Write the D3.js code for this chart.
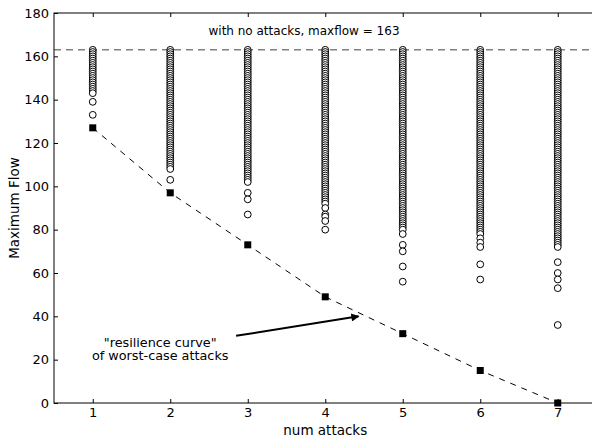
<!DOCTYPE html>
<html>
<head>
<meta charset="utf-8">
<script src="https://cdnjs.cloudflare.com/ajax/libs/d3/7.8.5/d3.min.js"></script>
<style>
  body { margin: 0; background: #fff; }
  text { font-family: "DejaVu Sans", sans-serif; fill: #000; }
</style>
</head>
<body>
<div id="chart"></div>
<script>
// ---------------------------- DATA ----------------------------
// number of attacks on the x axis
var numAttacks = [1, 2, 3, 4, 5, 6, 7];

// max flow of every attack tried, one list per number of attacks
var flows1 = [163,162,161,160,159,158,157,156,155,154,153,152,151,150,149,148,147,146,145,144,143,139,133];
var flows2 = [163,162,161,160,159,158,157,156,155,154,153,152,151,150,149,148,147,146,145,144,
  143,142,141,140,139,138,137,136,135,134,133,132,131,130,129,128,127,126,125,124,
  123,122,121,120,119,118,117,116,115,114,113,112,111,110,109,108,103];
var flows3 = [163,162,161,160,159,158,157,156,155,154,153,152,151,150,149,148,147,146,145,144,
  143,142,141,140,139,138,137,136,135,134,133,132,131,130,129,128,127,126,125,124,
  123,122,121,120,119,118,117,116,115,114,113,112,111,110,109,108,107,106,105,104,
  103,102,97,94,87];
var flows4 = [163,162,161,160,159,158,157,156,155,154,153,152,151,150,149,148,147,146,145,144,
  143,142,141,140,139,138,137,136,135,134,133,132,131,130,129,128,127,126,125,124,
  123,122,121,120,119,118,117,116,115,114,113,112,111,110,109,108,107,106,105,104,
  103,102,101,100,99,98,97,96,95,94,93,92,90,87,86,84,80];
var flows5 = [163,162,161,160,159,158,157,156,155,154,153,152,151,150,149,148,147,146,145,144,
  143,142,141,140,139,138,137,136,135,134,133,132,131,130,129,128,127,126,125,124,
  123,122,121,120,119,118,117,116,115,114,113,112,111,110,109,108,107,106,105,104,
  103,102,101,100,99,98,97,96,95,94,93,92,91,90,89,88,87,86,85,84,
  83,82,81,80,78,73,70,63,56];
var flows6 = [163,162,161,160,159,158,157,156,155,154,153,152,151,150,149,148,147,146,145,144,
  143,142,141,140,139,138,137,136,135,134,133,132,131,130,129,128,127,126,125,124,
  123,122,121,120,119,118,117,116,115,114,113,112,111,110,109,108,107,106,105,104,
  103,102,101,100,99,98,97,96,95,94,93,92,91,90,89,88,87,86,85,84,
  83,82,81,80,79,78,76,74,72,64,57];
var flows7 = [163,162,161,160,159,158,157,156,155,154,153,152,151,150,149,148,147,146,145,144,
  143,142,141,140,139,138,137,136,135,134,133,132,131,130,129,128,127,126,125,124,
  123,122,121,120,119,118,117,116,115,114,113,112,111,110,109,108,107,106,105,104,
  103,102,101,100,99,98,97,96,95,94,93,92,91,90,89,88,87,86,85,84,
  83,82,81,80,79,78,77,76,75,74,73,72,65,60,57,53,36];
var allFlows = [flows1, flows2, flows3, flows4, flows5, flows6, flows7];

// worst-case attack for each number of attacks
var worstCase = [127, 97, 73, 49, 32, 15, 0];

var maxFlow = 163;
var yTicks = [0, 20, 40, 60, 80, 100, 120, 140, 160, 180];

// annotation (data coordinates)
var noteText = ["\"resilience curve\"", "of worst-case attacks"];
var notePos = [1.87, 25];
var arrowFrom = [2.85, 31];
var arrowTo = [4.43, 40];

// ---------------------------- SETUP ----------------------------
var svgWidth = 592, svgHeight = 437;
var margin = {left: 54, top: 13};
var plotWidth = 542.5, plotHeight = 390;

var svg = d3.select("#chart").append("svg")
  .attr("width", svgWidth)
  .attr("height", svgHeight);

var defs = svg.append("defs");
defs.append("marker")
  .attr("id", "head")
  .attr("viewBox", "0 0 10 10")
  .attr("refX", 9).attr("refY", 5)
  .attr("markerWidth", 6).attr("markerHeight", 4)
  .attr("markerUnits", "strokeWidth")
  .attr("orient", "auto")
  .append("path").attr("d", "M0,0 L10,5 L0,10 z").attr("fill", "#000");

var g = svg.append("g").attr("transform", `translate(${margin.left},${margin.top})`);

var x = d3.scaleLinear().domain([0.5, 7.5]).range([0, plotWidth]);
var y = d3.scaleLinear().domain([0, 180]).range([plotHeight, 0]);

// ---------------------------- MARKS ----------------------------
// reference line for the no-attack max flow
g.append("line")
  .attr("x1", 0).attr("x2", plotWidth)
  .attr("y1", y(maxFlow)).attr("y2", y(maxFlow))
  .attr("stroke", "#444").attr("stroke-width", 1)
  .attr("stroke-dasharray", "7,5");

// all attack results as open circles
var points = [];
allFlows.forEach(function(list, i) {
  list.forEach(function(v) { points.push({k: numAttacks[i], v: v}); });
});
g.selectAll("circle.flow")
  .data(points)
  .enter().append("circle")
  .attr("class", "flow")
  .attr("cx", d => x(d.k))
  .attr("cy", d => y(d.v))
  .attr("r", 3.4)
  .attr("fill", "#fff")
  .attr("stroke", "#000")
  .attr("stroke-width", 1);

// resilience curve
var line = d3.line().x((d, i) => x(numAttacks[i])).y(d => y(d));
g.append("path")
  .datum(worstCase)
  .attr("d", line)
  .attr("fill", "none")
  .attr("stroke", "#000")
  .attr("stroke-width", 1)
  .attr("stroke-dasharray", "6,6");

g.selectAll("rect.worst")
  .data(worstCase)
  .enter().append("rect")
  .attr("class", "worst")
  .attr("x", (d, i) => x(numAttacks[i]) - 3.5)
  .attr("y", d => y(d) - 3.5)
  .attr("width", 7).attr("height", 7)
  .attr("fill", "#000");

// ---------------------------- AXES ----------------------------
var bottomAxis = d3.axisBottom(x).tickValues(numAttacks).tickFormat(d3.format("d"))
  .tickSizeInner(-4).tickSizeOuter(0).tickPadding(5);
var leftAxis = d3.axisLeft(y).tickValues(yTicks)
  .tickSizeInner(-4).tickSizeOuter(0).tickPadding(5);
var topAxis = d3.axisTop(x).tickValues(numAttacks).tickFormat("")
  .tickSizeInner(-4).tickSizeOuter(0);
var rightAxis = d3.axisRight(y).tickValues(yTicks).tickFormat("")
  .tickSizeInner(-4).tickSizeOuter(0);

function styleAxis(sel) {
  sel.select(".domain").remove();
  sel.selectAll("line").attr("stroke", "#000");
  sel.selectAll("text").attr("font-size", 13).attr("fill", "#000")
    .attr("font-family", "DejaVu Sans");
}

g.append("g").attr("transform", `translate(0,${plotHeight})`).call(bottomAxis).call(styleAxis);
g.append("g").call(leftAxis).call(styleAxis);
g.append("g").call(topAxis).call(styleAxis);
g.append("g").attr("transform", `translate(${plotWidth},0)`).call(rightAxis).call(styleAxis);

// frame
g.append("rect")
  .attr("x", 0).attr("y", 0)
  .attr("width", plotWidth).attr("height", plotHeight)
  .attr("fill", "none").attr("stroke", "#000").attr("stroke-width", 1);

// ---------------------------- LABELS ----------------------------
g.append("text")
  .attr("x", 250).attr("y", y(maxFlow) - 15)
  .attr("text-anchor", "middle")
  .attr("font-size", 12)
  .text("with no attacks, maxflow = " + maxFlow);

g.append("text")
  .attr("x", plotWidth / 2).attr("y", plotHeight + 32)
  .attr("text-anchor", "middle")
  .attr("font-size", 13.5)
  .text("num attacks");

g.append("text")
  .attr("transform", `translate(${-35},${plotHeight / 2}) rotate(-90)`)
  .attr("text-anchor", "middle")
  .attr("font-size", 13.5)
  .text("Maximum Flow");

// annotation
var note = g.append("text")
  .attr("text-anchor", "middle")
  .attr("font-size", 12.8);
note.selectAll("tspan")
  .data(noteText)
  .enter().append("tspan")
  .attr("x", x(notePos[0]))
  .attr("y", (d, i) => y(notePos[1]) - 2 + i * 13.5)
  .text(d => d);

g.append("line")
  .attr("x1", x(arrowFrom[0])).attr("y1", y(arrowFrom[1]))
  .attr("x2", x(arrowTo[0])).attr("y2", y(arrowTo[1]))
  .attr("stroke", "#000").attr("stroke-width", 2)
  .attr("marker-end", "url(#head)");
</script>
</body>
</html>
